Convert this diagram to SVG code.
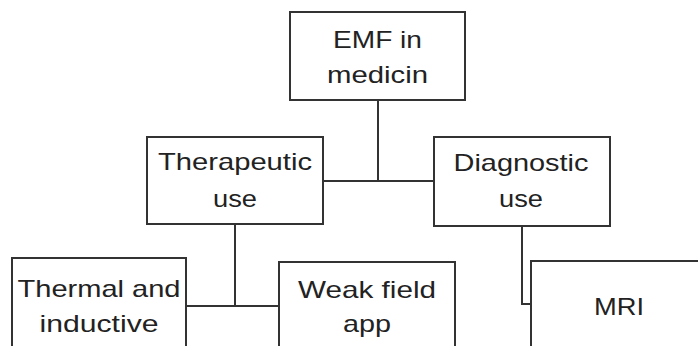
<svg xmlns="http://www.w3.org/2000/svg" width="698" height="346" viewBox="0 0 698 346">
<style>
.box{fill:#fff;stroke:#333;stroke-width:2}
.conn{fill:none;stroke:#333;stroke-width:2}
text{font-family:"Liberation Sans","Open Sans",Arial,sans-serif;font-size:24px;fill:#222;text-anchor:middle}
</style>
<rect width="698" height="346" fill="#fff"/>
<g id="connectors">
<polyline class="conn" points="378,100 378,181"/>
<polyline class="conn" points="323,181 434,181"/>
<polyline class="conn" points="235,224 235,306"/>
<polyline class="conn" points="186,306 279,306"/>
<polyline class="conn" points="522,226 522,304 531,304"/>
</g>
<g id="emf">
<rect class="box" x="290" y="12" width="175" height="88"/>
<text x="377.5" y="48" textLength="89" lengthAdjust="spacingAndGlyphs">EMF in</text>
<text x="377.5" y="82.5" textLength="101" lengthAdjust="spacingAndGlyphs">medicin</text>
</g>
<g id="therapeutic">
<rect class="box" x="147" y="137" width="176" height="87"/>
<text x="235" y="169.5" textLength="154" lengthAdjust="spacingAndGlyphs">Therapeutic</text>
<text x="235" y="207" textLength="44" lengthAdjust="spacingAndGlyphs">use</text>
</g>
<g id="diagnostic">
<rect class="box" x="434" y="137" width="176" height="89"/>
<text x="521" y="171" textLength="135" lengthAdjust="spacingAndGlyphs">Diagnostic</text>
<text x="521" y="207" textLength="44" lengthAdjust="spacingAndGlyphs">use</text>
</g>
<g id="thermal">
<rect class="box" x="12" y="258" width="174" height="100"/>
<text x="99" y="297" textLength="163" lengthAdjust="spacingAndGlyphs">Thermal and</text>
<text x="99" y="331.5" textLength="119" lengthAdjust="spacingAndGlyphs">inductive</text>
</g>
<g id="weak">
<rect class="box" x="279" y="262" width="176" height="96"/>
<text x="367" y="297.5" textLength="138" lengthAdjust="spacingAndGlyphs">Weak field</text>
<text x="367" y="332" textLength="48" lengthAdjust="spacingAndGlyphs">app</text>
</g>
<g id="mri">
<rect class="box" x="531" y="261" width="190" height="97"/>
<text x="619" y="315" textLength="50" lengthAdjust="spacingAndGlyphs">MRI</text>
</g>
</svg>
